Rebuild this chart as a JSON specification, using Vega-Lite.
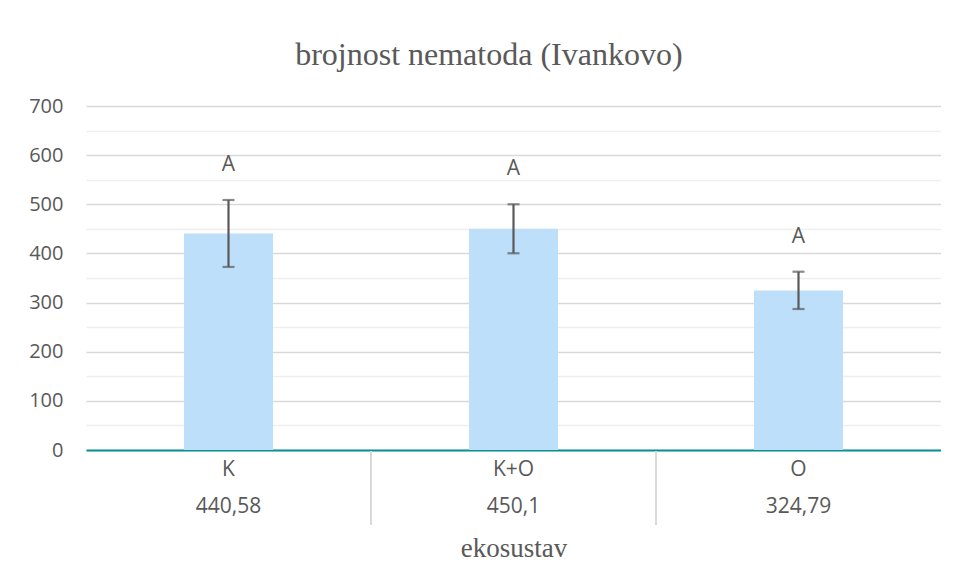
{
  "$schema": "https://vega.github.io/schema/vega-lite/v6.json",
  "autosize": {"type": "pad"},
  "padding": {"left": 28, "top": 39, "right": 0, "bottom": 0},
  "background": "white",
  "datasets": {
    "d": [
      {"ekosustav": "K", "mean": 440.58, "lo": 372.5, "hi": 508.7, "letter": "A"},
      {"ekosustav": "K+O", "mean": 450.1, "lo": 400.3, "hi": 500.0, "letter": "A"},
      {"ekosustav": "O", "mean": 324.79, "lo": 286.9, "hi": 362.8, "letter": "A"}
    ]
  },
  "title": {
    "text": "brojnost nematoda (Ivankovo)",
    "font": "Liberation Serif",
    "fontSize": 32,
    "fontWeight": "normal",
    "color": "#595959",
    "anchor": "middle",
    "dx": 4,
    "baseline": "alphabetic",
    "offset": -1
  },
  "bounds": "flush",
  "spacing": 1,
  "vconcat": [
    {
      "width": 855,
      "height": 344,
      "data": {"name": "d"},
      "resolve": {"axis": {"y": "independent"}},
      "layer": [
        {
          "mark": {"type": "bar", "size": 89, "color": "#bddffa"},
          "encoding": {
            "x": {
              "field": "ekosustav", "type": "nominal", "sort": null,
              "scale": {"domain": ["K", "K+O", "O"], "paddingInner": 0, "paddingOuter": 0},
              "axis": {"title": null, "labels": false, "ticks": false, "grid": false, "domainColor": "#0a8f94", "domainWidth": 2.2}
            },
            "y": {
              "field": "mean", "type": "quantitative",
              "scale": {"domain": [0, 700], "nice": false, "zero": true},
              "axis": {
                "title": null, "values": [0, 100, 200, 300, 400, 500, 600, 700],
                "labelFont": "Open Sans", "labelFontSize": 20, "labelColor": "#595959",
                "labelPadding": 23, "ticks": false, "domain": false,
                "grid": true, "gridColor": "#d9d9d9", "gridWidth": 1.4
              }
            }
          }
        },
        {
          "mark": {
            "type": "errorbar",
            "color": "#595959",
            "thickness": 2.2,
            "ticks": {"size": 12, "thickness": 2.2, "color": "#595959"}
          },
          "encoding": {
            "x": {"field": "ekosustav", "type": "nominal", "sort": null},
            "y": {"field": "lo", "type": "quantitative", "axis": null, "title": null},
            "y2": {"field": "hi"}
          }
        },
        {
          "mark": {"type": "text", "font": "Open Sans", "fontSize": 21, "color": "#595959", "baseline": "alphabetic", "dy": -29},
          "encoding": {
            "x": {"field": "ekosustav", "type": "nominal", "sort": null},
            "y": {
              "field": "hi", "type": "quantitative",
              "axis": {
                "orient": "right", "title": null, "values": [50, 150, 250, 350, 450, 550, 650],
                "labels": false, "ticks": false, "domain": false,
                "grid": true, "gridColor": "#efefef", "gridWidth": 1.4
              }
            },
            "text": {"field": "letter"}
          }
        }
      ]
    },
    {
      "width": 855,
      "height": 74,
      "data": {"name": "d"},
      "encoding": {
        "x": {
          "field": "ekosustav", "type": "nominal", "sort": null,
          "scale": {"domain": ["K", "K+O", "O"], "paddingInner": 0, "paddingOuter": 0},
          "axis": {
            "title": "ekosustav", "labels": false, "ticks": false, "domain": false, "grid": false,
            "titleFont": "Liberation Serif", "titleFontSize": 27, "titleFontWeight": "normal",
            "titleColor": "#595959", "titlePadding": 10
          }
        }
      },
      "layer": [
        {
          "transform": [{"filter": "datum.ekosustav != 'K'"}],
          "mark": {"type": "rule", "color": "#d9d9d9", "strokeWidth": 2},
          "encoding": {
            "x": {"field": "ekosustav", "type": "nominal", "sort": null, "bandPosition": 0}
          }
        },
        {
          "mark": {"type": "text", "font": "Open Sans", "fontSize": 21, "color": "#595959", "baseline": "middle", "dy": -18},
          "encoding": {"text": {"field": "ekosustav"}}
        },
        {
          "mark": {"type": "text", "font": "Open Sans", "fontSize": 21, "color": "#595959", "baseline": "middle", "dy": 19},
          "encoding": {"text": {"field": "mean", "type": "quantitative", "format": "~f"}}
        }
      ]
    }
  ],
  "config": {
    "view": {"stroke": null},
    "locale": {"number": {"decimal": ",", "thousands": ".", "grouping": [3], "currency": ["", " €"]}}
  }
}
